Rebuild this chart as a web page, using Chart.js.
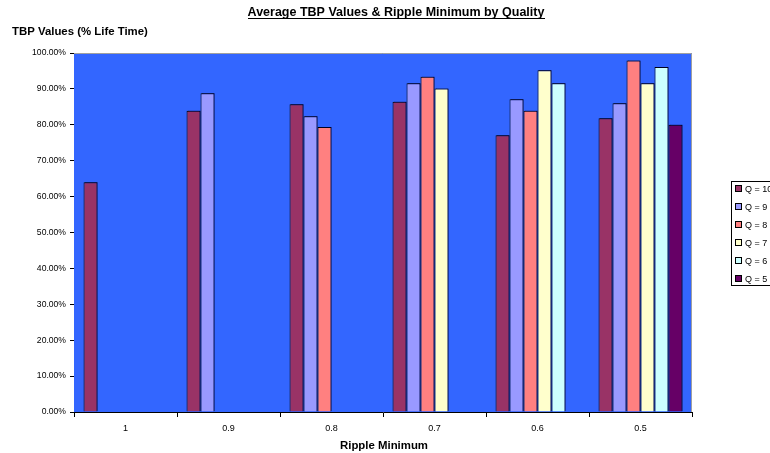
<!DOCTYPE html>
<html>
<head>
<meta charset="utf-8">
<script src="https://cdn.jsdelivr.net/npm/chart.js@4/dist/chart.umd.min.js"></script>
<style>
  html, body { margin: 0; padding: 0; background: #ffffff; }
  #wrap { width: 770px; height: 453px; position: relative; }
</style>
</head>
<body>
<div id="wrap"><canvas id="c" width="770" height="453"></canvas></div>
<script>
// Ripple minimum categories along the x axis
const categories = ['1', '0.9', '0.8', '0.7', '0.6', '0.5'];

// Average TBP (% life time) per quality setting; null = not measured
const q10 = [64.0, 83.9, 85.7, 86.4, 77.1, 81.8];
const q9  = [null, 88.8, 82.4, 91.6, 87.1, 86.0];
const q8  = [null, null, 79.4, 93.4, 83.9, 97.9];
const q7  = [null, null, null, 90.1, 95.2, 91.6];
const q6  = [null, null, null, null, 91.6, 96.1];
const q5  = [null, null, null, null, null, 80.0];

const seriesLabels = ['Q = 10', 'Q = 9', 'Q = 8', 'Q = 7', 'Q = 6', 'Q = 5'];
const seriesColors = ['#993366', '#9999FF', '#FF8080', '#FFFFCC', '#CCFFFF', '#660066'];
const seriesValues = [q10, q9, q8, q7, q6, q5];

const yTicks = [0, 10, 20, 30, 40, 50, 60, 70, 80, 90, 100];

const FONT = '"Liberation Sans", Arial, sans-serif';

// Plot background, frame, titles and the boxed legend
const decorPlugin = {
  id: 'decor',
  beforeDatasetsDraw(chart) {
    const { ctx, chartArea: a } = chart;
    ctx.save();
    ctx.fillStyle = '#3366FF';
    ctx.fillRect(a.left, a.top, a.right - a.left, a.bottom - a.top);
    ctx.strokeStyle = '#a0a0a0';
    ctx.lineWidth = 1;
    ctx.beginPath();
    ctx.moveTo(a.left, a.top + 0.5);
    ctx.lineTo(a.right - 0.5, a.top + 0.5);
    ctx.lineTo(a.right - 0.5, a.bottom);
    ctx.stroke();
    ctx.restore();
    // soft drop shadow under the bars
    ctx.save();
    ctx.shadowColor = 'rgba(0, 0, 60, 0.55)';
    ctx.shadowOffsetX = 1.5;
    ctx.shadowOffsetY = -1;
    ctx.shadowBlur = 0.5;
  },
  afterDatasetsDraw(chart) {
    chart.ctx.restore();
  },
  afterDraw(chart) {
    const { ctx } = chart;
    ctx.save();
    ctx.fillStyle = '#000';
    ctx.textBaseline = 'alphabetic';

    // Main title, underlined
    ctx.font = 'bold 12.5px ' + FONT;
    ctx.textAlign = 'center';
    const title = 'Average TBP Values & Ripple Minimum by Quality';
    const tx = 396, ty = 16;
    ctx.fillText(title, tx, ty);
    const tw = ctx.measureText(title).width;
    ctx.fillRect(Math.round(tx - tw / 2), ty + 2, Math.round(tw), 1);

    // Value axis title (horizontal, top-left)
    ctx.font = 'bold 11.4px ' + FONT;
    ctx.textAlign = 'left';
    ctx.fillText('TBP Values (% Life Time)', 12, 35);

    // Category axis title
    ctx.font = 'bold 11.4px ' + FONT;
    ctx.textAlign = 'center';
    ctx.fillText('Ripple Minimum', 384, 449);

    // Legend
    const lx = 731, ly = 181, lw = 45, lh = 104;
    ctx.fillStyle = '#fff';
    ctx.fillRect(lx, ly, lw, lh);
    ctx.strokeStyle = '#000';
    ctx.lineWidth = 1;
    ctx.strokeRect(lx + 0.5, ly + 0.5, lw, lh);
    ctx.font = '9px ' + FONT;
    ctx.textAlign = 'left';
    ctx.textBaseline = 'middle';
    chart.data.datasets.forEach((ds, i) => {
      const y = ly + 8 + i * 18;
      ctx.fillStyle = ds.backgroundColor;
      ctx.fillRect(lx + 4, y - 3, 6, 6);
      ctx.strokeStyle = '#000';
      ctx.strokeRect(lx + 4.5, y - 3.5, 6, 6);
      ctx.fillStyle = '#000';
      ctx.fillText(ds.label, lx + 14, y + 0.5);
    });
    ctx.restore();
  }
};

new Chart(document.getElementById('c'), {
  type: 'bar',
  data: {
    labels: categories,
    datasets: seriesValues.map((vals, i) => ({
      label: seriesLabels[i],
      data: vals,
      backgroundColor: seriesColors[i],
      borderColor: '#000',
      borderWidth: 1,
      borderSkipped: 'bottom',
      categoryPercentage: 0.815,
      barPercentage: 1.0
    }))
  },
  options: {
    responsive: false,
    animation: false,
    devicePixelRatio: 1,
    layout: { padding: { left: 0, top: 53, right: 78, bottom: 0 } },
    plugins: {
      legend: { display: false },
      title: { display: false },
      tooltip: { enabled: false }
    },
    scales: {
      x: {
        offset: true,
        grid: {
          offset: true,
          drawOnChartArea: false,
          drawTicks: true,
          tickLength: 5,
          color: '#000'
        },
        border: { color: '#000', width: 1 },
        ticks: {
          color: '#000',
          font: { family: FONT, size: 9 },
          padding: 6,
          maxRotation: 0
        },
        afterFit(scale) { scale.height = 41; }
      },
      y: {
        min: 0,
        max: 100,
        afterBuildTicks(scale) { scale.ticks = yTicks.map(v => ({ value: v })); },
        grid: {
          drawOnChartArea: false,
          drawTicks: true,
          tickLength: 4,
          color: '#000'
        },
        border: { color: '#000', width: 1 },
        ticks: {
          color: '#000',
          font: { family: FONT, size: 8.6 },
          padding: 4,
          callback: v => v.toFixed(2) + '%'
        },
        afterFit(scale) { scale.width = 74; }
      }
    }
  },
  plugins: [decorPlugin]
});
</script>
</body>
</html>
